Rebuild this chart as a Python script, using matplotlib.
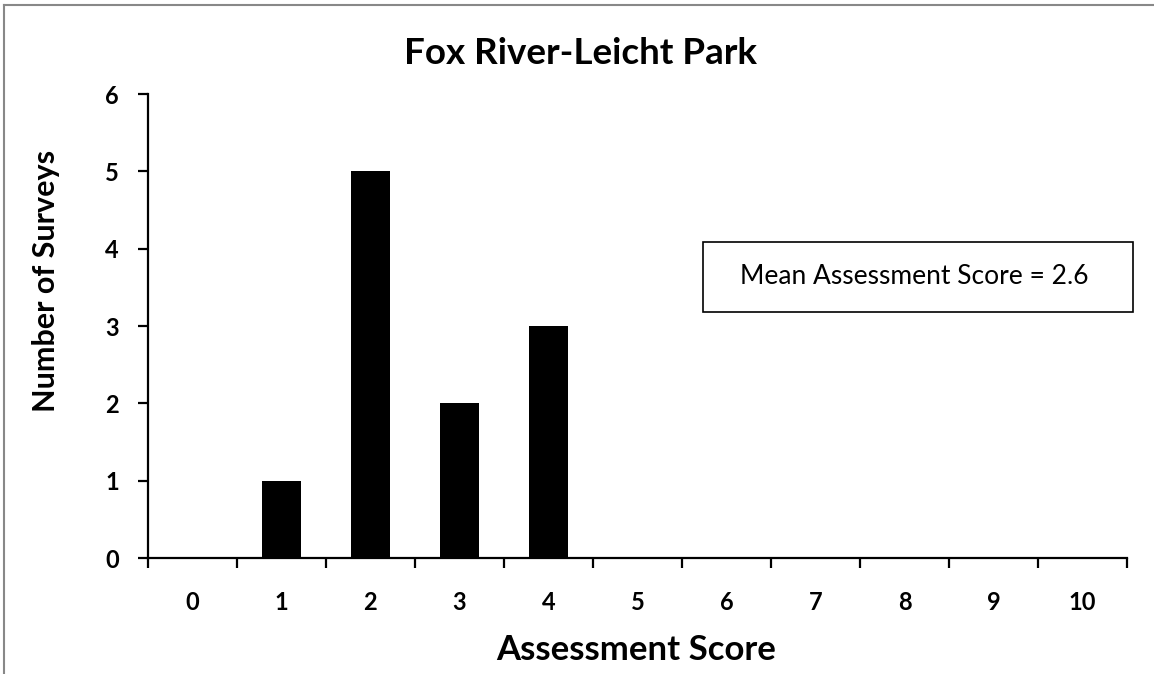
import numpy as np
import matplotlib.pyplot as plt
from matplotlib.patches import Rectangle
from matplotlib.lines import Line2D

plt.rcParams['font.family'] = ['Lato', 'DejaVu Sans']

scores = list(range(0, 11))
surveys = [0, 1, 5, 2, 3, 0, 0, 0, 0, 0, 0]
title = 'Fox River-Leicht Park'
mean_label = 'Mean Assessment Score = 2.6'

fig = plt.figure(figsize=(11.54, 6.74), dpi=100)
ax = fig.add_axes([148/1154, 1-558/674, (1127-148)/1154, (558-94)/674])

ax.bar(scores, surveys, width=0.44, color='black')
ax.set_xlim(-0.5, 10.5)
ax.set_ylim(0, 6)
ax.spines['right'].set_visible(False)
ax.spines['top'].set_visible(False)
for s in ['left', 'bottom']:
    ax.spines[s].set_linewidth(1.6)

# category labels centred, tick marks on category boundaries
ax.set_xticks(np.arange(-0.5, 11, 1))
ax.set_xticklabels([])
ax.set_xticks(scores, minor=True)
ax.set_xticklabels([str(s) for s in scores], minor=True, fontsize=17, fontweight='bold')
ax.tick_params(axis='x', which='major', direction='out', length=7, width=1.6)
ax.tick_params(axis='x', which='minor', length=0, pad=24)
ax.set_yticks(range(0, 7))
ax.set_yticklabels([str(v) for v in range(0, 7)], fontsize=17, fontweight='bold')
ax.tick_params(axis='y', direction='out', length=7, width=1.6, pad=14)

fig.text(581/1154, 1-54/674, title, ha='center', va='center', fontsize=26.5, fontweight='bold')
fig.text(636/1154, 1-650/674, 'Assessment Score', ha='center', va='center', fontsize=25, fontweight='bold')
fig.text(46/1154, 1-281/674, 'Number of Surveys', ha='center', va='center', rotation=90,
         fontsize=22, fontweight='bold')

# mean score box
fig.patches.append(Rectangle((703/1154, 1-312/674), 430/1154, 70/674, transform=fig.transFigure,
                             facecolor='white', edgecolor='black', linewidth=1.2))
fig.text(914/1154, 1-277/674, mean_label, ha='center', va='center', fontsize=19)

# outer frame (top and left only)
fig.add_artist(Line2D([4/1154, 4/1154], [0, 1-5/674], transform=fig.transFigure, color='#888888', lw=1.5))
fig.add_artist(Line2D([4/1154, 1], [1-5/674, 1-5/674], transform=fig.transFigure, color='#888888', lw=1.5))

fig.savefig('out.png', dpi=100)
